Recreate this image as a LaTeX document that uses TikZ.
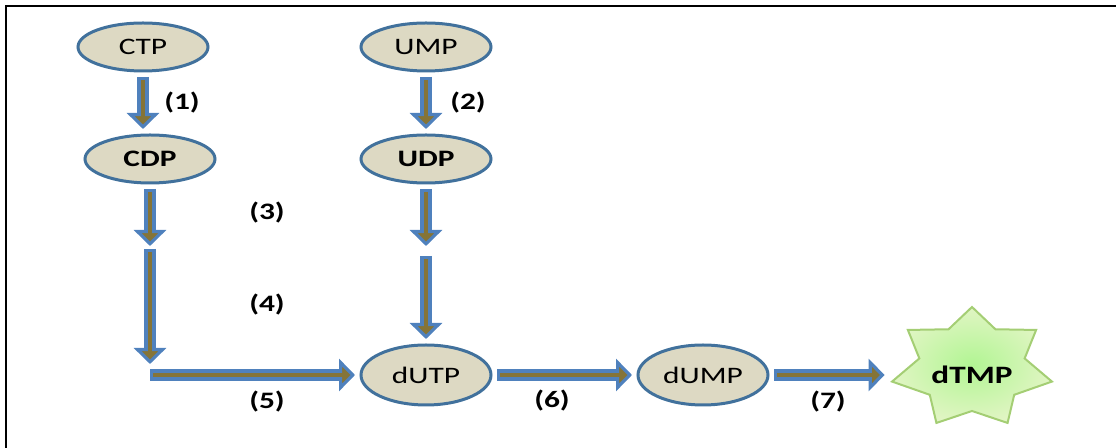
\documentclass[tikz,border=0pt]{standalone}
\usepackage{fontspec}
\setmainfont{Carlito}[FakeStretch=1.33]
\usepackage{tikz}
\usetikzlibrary{arrows.meta,shapes}
\definecolor{tanfill}{HTML}{DDD9C3}
\definecolor{rimblue}{HTML}{41719C}
\definecolor{pipeblue}{HTML}{4F81BD}
\definecolor{pipecore}{HTML}{857437}
\definecolor{stargreen}{HTML}{D3F1A9}
\definecolor{starrim}{HTML}{A4CE74}
\tikzset{>={Triangle[width=16pt,length=8pt,line width=1.6pt,fill=pipecore]}}
\tikzset{
  pool/.style={ellipse, draw=rimblue, line width=1.5pt, fill=tanfill,
    minimum width=65pt, minimum height=24pt, inner sep=0pt, outer sep=3pt},
  pipe/.style={->, draw=pipeblue, line width=6pt,
    postaction={draw=pipecore, line width=2.4pt, -, shorten <=1.5pt, shorten >=5pt}},
  num/.style={font=\bfseries}
}

\begin{document}
\begin{tikzpicture}[x=0.5pt,y=-0.5pt]

\useasboundingbox (0,0) rectangle (1116,448); %% page size
\draw[line width=1pt] (6,448) -- (6,6) -- (1116,6); %% frame

\fontsize{11.8}{14}\selectfont

%% nucleotides
\node[pool] (ctp) at (143,47) {CTP};
\node[pool] (ump) at (426,47) {UMP};
\node[pool,font=\bfseries] (cdp) at (150,159) {CDP};
\node[pool,font=\bfseries] (udp) at (426,159) {UDP};
\node[pool,minimum height=30pt] (dutp) at (426,375) {dUTP};
\node[pool,minimum height=30pt] (dump) at (703,375) {dUMP};

%% star
\begin{scope}[shift={(972,368)}]
\draw[line width=1pt, draw=starrim, inner color=stargreen!80!green!90!white,
  outer color=stargreen!70!white]
  (270:82 and 61) \foreach \k in {1,...,7}
  { -- ({270+\k*360/7-180/7}:54 and 43) -- ({270+\k*360/7}:82 and 61) } -- cycle;
\end{scope}
\node[font=\bfseries\fontsize{12.5}{14}\selectfont, minimum width=87pt] (dtmp) at (972,375) {dTMP};

%% free ends
\coordinate (c3) at (150,246);
\coordinate (c4a) at (150,249);
\coordinate (c4b) at (150,364);
\coordinate (c5) at (150,375);
\coordinate (r1) at (426,246);
\coordinate (r2) at (426,256);

\draw[pipe] (ctp) -- (ctp |- cdp.north);
\draw[pipe] (ump) -- (ump |- udp.north);
\draw[pipe] (cdp) -- (c3);
\draw[pipe] (c4a) -- (c4b);
\draw[pipe] (c5) -- (dutp);
\draw[pipe] (udp) -- (r1);
\draw[pipe] (r2) -- (dutp);
\draw[pipe] (dutp) -- (dump);
\draw[pipe] (dump) -- (dtmp);

%% steps
\node[num] (n1) at (182,103) {(1)};
\node[num] (n2) at (468,103) {(2)};
\node[num] (n3) at (267,213) {(3)};
\node[num] (n4) at (267,305) {(4)};
\node[num] (n5) at (267,402) {(5)};
\node[num] (n6) at (552,401) {(6)};
\node[num] (n7) at (828,402) {(7)};

\end{tikzpicture}
\end{document}
